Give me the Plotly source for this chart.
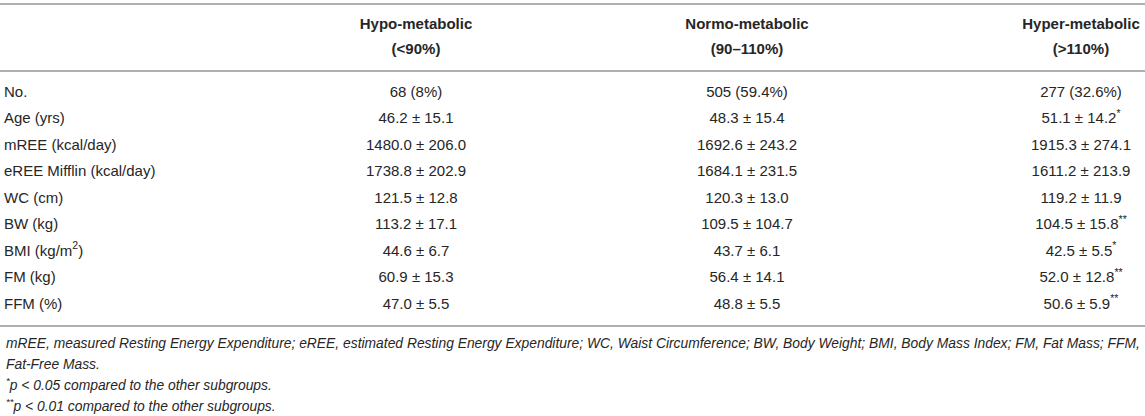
import plotly.graph_objects as go

# table content
row_labels = ["No.", "Age (yrs)", "mREE (kcal/day)", "eREE Mifflin (kcal/day)", "WC (cm)",
              "BW (kg)", "BMI (kg/m<sup>2</sup>)", "FM (kg)", "FFM (%)"]
hypo = ["68 (8%)", "46.2 ± 15.1", "1480.0 ± 206.0", "1738.8 ± 202.9", "121.5 ± 12.8",
        "113.2 ± 17.1", "44.6 ± 6.7", "60.9 ± 15.3", "47.0 ± 5.5"]
normo = ["505 (59.4%)", "48.3 ± 15.4", "1692.6 ± 243.2", "1684.1 ± 231.5", "120.3 ± 13.0",
         "109.5 ± 104.7", "43.7 ± 6.1", "56.4 ± 14.1", "48.8 ± 5.5"]
hyper = ["277 (32.6%)", "51.1 ± 14.2<sup>*</sup>", "1915.3 ± 274.1", "1611.2 ± 213.9", "119.2 ± 11.9",
         "104.5 ± 15.8<sup>**</sup>", "42.5 ± 5.5<sup>*</sup>", "52.0 ± 12.8<sup>**</sup>",
         "50.6 ± 5.9<sup>**</sup>"]
group_names = ["Hypo-metabolic", "Normo-metabolic", "Hyper-metabolic"]
group_ranges = ["(&lt;90%)", "(90–110%)", "(&gt;110%)"]
footnotes = [
    "mREE, measured Resting Energy Expenditure; eREE, estimated Resting Energy Expenditure; WC, Waist "
    "Circumference; BW, Body Weight; BMI, Body Mass Index; FM, Fat Mass; FFM,",
    "Fat-Free Mass.",
    "<sup>*</sup>p &lt; 0.05 compared to the other subgroups.",
    "<sup>**</sup>p &lt; 0.01 compared to the other subgroups.",
]

W, H = 1145, 416
TXT = "#262626"
RULE = "#b0b0b0"
FONT = "Liberation Sans, Arial, sans-serif"
FS = 15
FS_NOTE = 13.85

label_x = 4
col_x = [416, 747, 1081]
row0, row_h = 93, 26.5
head_y = [25, 50]
rules_y = [4, 71, 326]
foot0, foot_h = 343, 20.5

rows_y = [row0 + row_h * i for i in range(len(row_labels))]

fig = go.Figure()
fig.add_trace(go.Scatter(x=[label_x] * len(row_labels), y=rows_y, text=row_labels,
                         mode="text", textposition="middle right",
                         textfont=dict(family=FONT, size=FS, color=TXT)))
for cx, vals in zip(col_x, [hypo, normo, hyper]):
    fig.add_trace(go.Scatter(x=[cx] * len(vals), y=rows_y, text=vals,
                             mode="text", textposition="middle center",
                             textfont=dict(family=FONT, size=FS, color=TXT)))
fig.add_trace(go.Scatter(x=col_x, y=[head_y[0]] * 3, text=[f"<b>{g}</b>" for g in group_names],
                         mode="text", textposition="middle center",
                         textfont=dict(family=FONT, size=FS, color=TXT)))
fig.add_trace(go.Scatter(x=col_x, y=[head_y[1]] * 3, text=[f"<b>{g}</b>" for g in group_ranges],
                         mode="text", textposition="middle center",
                         textfont=dict(family=FONT, size=FS, color=TXT)))

for i, note in enumerate(footnotes):
    fig.add_annotation(x=label_x, y=foot0 + foot_h * i, xref="x", yref="y",
                       text=f"<i>{note}</i>", showarrow=False, xanchor="left", yanchor="middle",
                       font=dict(family=FONT, size=FS_NOTE, color=TXT))

for ry in rules_y:
    fig.add_shape(type="line", x0=0, x1=W, y0=ry, y1=ry, xref="x", yref="y",
                  line=dict(color=RULE, width=2))

fig.update_layout(
    width=W, height=H, margin=dict(l=0, r=0, t=0, b=0),
    paper_bgcolor="white", plot_bgcolor="white", showlegend=False,
    xaxis=dict(range=[0, W], visible=False, fixedrange=True),
    yaxis=dict(range=[H, 0], visible=False, fixedrange=True),
)

# page has a default 8px body margin; drop it so the figure fills the window
fig.write_html("out.html", config={"displayModeBar": False},
               post_script="document.body.style.margin='0';document.body.style.overflow='hidden';")
